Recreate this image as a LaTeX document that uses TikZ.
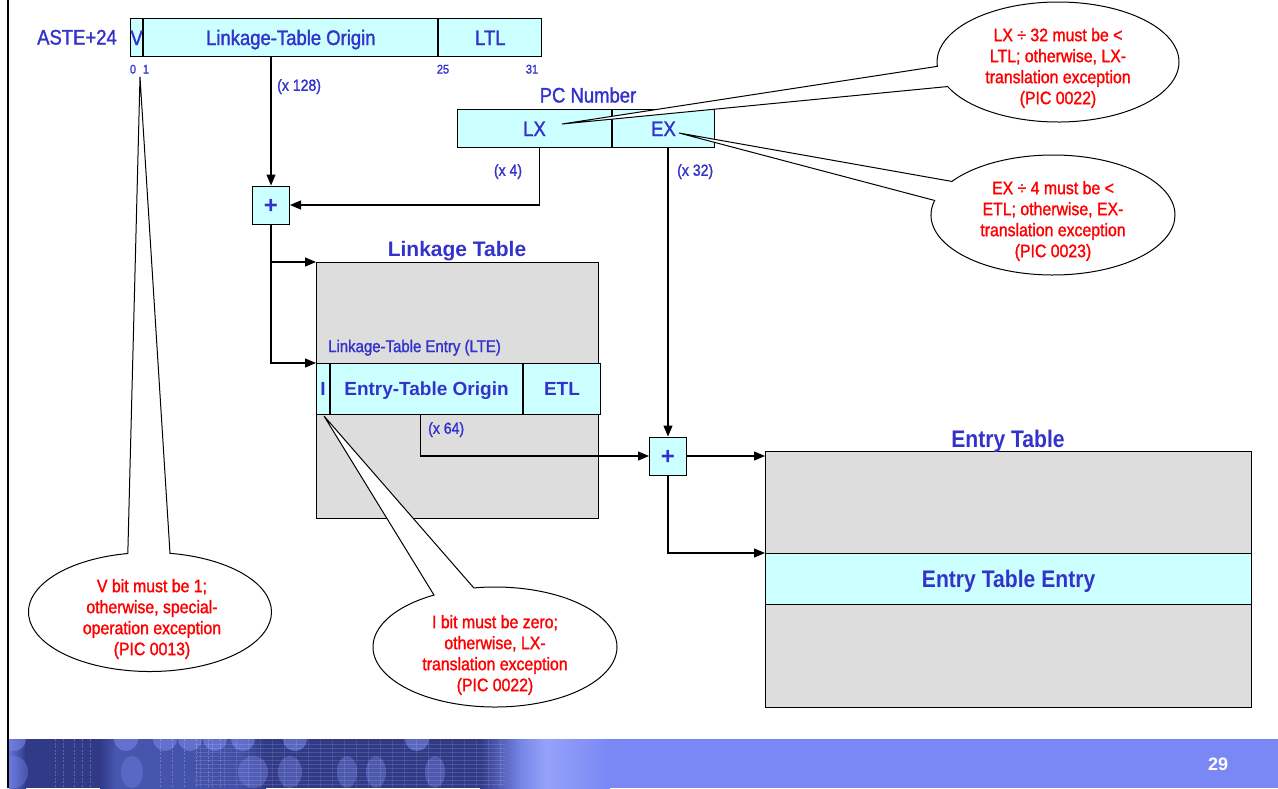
\documentclass[tikz,border=0pt]{standalone}
\usepackage{fontspec}
\setmainfont{Liberation Sans}[FakeStretch=0.88]
\newfontfamily\medfont{Liberation Sans}[FakeStretch=0.88,FakeBold=1.4]
\newfontfamily\widefont{Liberation Sans}
\usetikzlibrary{arrows.meta,shapes.callouts,calc}

\definecolor{tblue}{RGB}{51,51,204}
\definecolor{cyanf}{RGB}{204,255,255}
\definecolor{grayf}{RGB}{221,221,221}
\definecolor{bbase}{RGB}{122,136,245}
\definecolor{bnavy}{RGB}{48,58,135}
\definecolor{bmid}{RGB}{72,86,175}
\definecolor{bedge}{RGB}{100,115,215}
\definecolor{bfade}{RGB}{150,162,250}
\definecolor{blight}{RGB}{118,133,232}

\begin{document}
\begin{tikzpicture}[x=1pt,y=1pt,
  field/.style={draw, line width=1pt, fill=cyanf, inner sep=0pt, text=tblue,
    font=\medfont\fontsize{21}{25}\selectfont, text height=15pt, text depth=0pt,
    minimum height=38pt, anchor=north west},
  ltefield/.style={field, minimum height=51pt,
    font=\widefont\bfseries\fontsize{19}{23}\selectfont, text height=13.6pt},
  tablebox/.style={draw, line width=1.2pt, fill=grayf, inner sep=0pt, anchor=north west},
  adder/.style={draw, line width=1pt, fill=cyanf, minimum width=37pt, minimum height=38pt,
    inner sep=0pt, text=tblue, font=\widefont\bfseries\fontsize{24}{26}\selectfont,
    text height=17pt, text depth=0pt},
  lbl/.style={text=tblue, inner sep=0pt, font=\medfont\fontsize{21}{25}\selectfont,
    text height=15pt, text depth=0pt},
  mult/.style={text=tblue, inner sep=0pt, font=\medfont\fontsize{16}{19}\selectfont,
    text height=11.5pt, text depth=0pt},
  bitno/.style={text=tblue, inner sep=0pt, font=\medfont\fontsize{12.5}{14}\selectfont,
    text height=9pt, text depth=0pt},
  titlelbl/.style={text=tblue, inner sep=0pt, font=\bfseries\fontsize{24}{28}\selectfont,
    text height=17pt, text depth=0pt},
  conn/.style={line width=1.2pt, -{Triangle[length=11pt,width=9pt]}},
  bubble/.style={ellipse callout, draw, line width=1pt, fill=white, inner sep=0pt,
    callout pointer arc=20},
  warn/.style={text=red, align=center, inner sep=0pt, font=\medfont\fontsize{18}{21}\selectfont},
  band/.style={line width=0pt},
]
\useasboundingbox (0,0) rectangle (1278,-788);

% ---------- ASTE word 24 ----------
\node[lbl, anchor=east] (aste) at (117,-37) {ASTE+24};
\node[field, minimum width=12pt] (vbit) at (130,-18) {V};
\node[field, minimum width=294pt] (lto) at (vbit.north east) {Linkage-Table Origin};
\node[field, minimum width=103pt] (ltl) at (lto.north east) {LTL};
\node[bitno] (b0) at (133,-69) {0};
\node[bitno] (b1) at (146,-69) {1};
\node[bitno] (b25) at (443,-69) {25};
\node[bitno] (b31) at (532,-69) {31};
\node[mult, anchor=west] (m128) at (277,-85) {(x 128)};

% ---------- PC number ----------
\node[lbl] (pcn) at (588,-95) {PC Number};
\node[field, minimum width=154pt] (lx) at (457,-109) {LX};
\node[field, minimum width=102pt] (ex) at (lx.north east) {EX};
\node[mult] (m4) at (508,-170) {(x 4)};
\node[mult, anchor=west] (m32) at (677,-170) {(x 32)};

% ---------- adders ----------
\node[adder] (add1) at (271,-205) {+};
\node[adder] (add2) at (668,-456) {+};

% ---------- linkage table ----------
\node[tablebox, minimum width=282pt, minimum height=256pt] (lt) at (316,-262) {};
\node[titlelbl, font=\widefont\bfseries\fontsize{21}{25}\selectfont, text height=15pt] (ltt) at (457,-249) {Linkage Table};
\node[mult, font=\medfont\fontsize{17}{20}\selectfont, text height=12.2pt, anchor=west] (ltelbl) at (328,-346) {Linkage-Table Entry (LTE)};
\node[ltefield, minimum width=13pt] (ibit) at (316,-363) {I};
\node[ltefield, minimum width=192pt] (eto) at (ibit.north east) {Entry-Table Origin};
\node[ltefield, minimum width=77pt] (etl) at (eto.north east) {ETL};
\node[mult, anchor=west] (m64) at (428,-428) {(x 64)};

% ---------- entry table ----------
\node[tablebox, minimum width=486pt, minimum height=256pt] (et) at (765,-451) {};
\node[titlelbl] (ett) at (1008,-439) {Entry Table};
\node[draw, line width=1.2pt, fill=cyanf, anchor=north west, minimum width=486pt,
  minimum height=51pt, inner sep=0pt, text=tblue,
  font=\bfseries\fontsize{24}{28}\selectfont, text height=17pt, text depth=0pt]
  (ete) at (765,-553) {Entry Table Entry};

% ---------- connectors ----------
\draw[conn] (lto.south -| add1.north) -- (add1.north);
\draw[conn] ([xshift=5pt]lx.south) |- (add1.east);
\draw[conn] (ex.south -| add2.north) -- (add2.north);
\draw[conn] (add1.south) |- (lt.north west);
\draw[conn] (add1.south) |- (ibit.north west);
\draw[conn] ([xshift=-6pt]eto.south) |- (add2.west);
\draw[conn] (add2.east) -- (add2.east -| et.west);
\draw[conn] (add2.south) |- (ete.north west);

% ---------- exception callouts ----------
\coordinate (lxtip) at (562,-124);
\coordinate (extip) at (679,-133);
\coordinate (vtip) at (140,-77);
\coordinate (itip) at (324,-416);

\node[bubble, minimum width=242pt, minimum height=120pt, callout absolute pointer={(lxtip)}] (lxcall) at (1058,-62) {};
\node[warn] (lxnote) at (1058,-68) {LX ÷ 32 must be <\\LTL; otherwise, LX-\\translation exception\\(PIC 0022)};

\node[bubble, minimum width=244pt, minimum height=120pt, callout absolute pointer={(extip)}] (excall) at (1053,-215) {};
\node[warn] (exnote) at (1053,-221) {EX ÷ 4 must be <\\ETL; otherwise, EX-\\translation exception\\(PIC 0023)};

\node[bubble, minimum width=243pt, minimum height=119pt, callout absolute pointer={(vtip)}] (vcall) at (150,-612) {};
\node[warn] (vnote) at (152,-619) {V bit must be 1;\\otherwise, special-\\operation exception\\(PIC 0013)};

\node[bubble, minimum width=244pt, minimum height=120pt, callout absolute pointer={(itip)}] (icall) at (495,-647) {};
\node[warn] (inote) at (495,-655) {I bit must be zero;\\otherwise, LX-\\translation exception\\(PIC 0022)};

% ---------- footer band ----------
\begin{scope}
  \clip (9,-739) rectangle (1278,-788);
  \fill[bbase] (9,-739) rectangle (1278,-788);
  % colour run from left to right, one segment at a time
  \shade[band, left color=bedge, right color=bnavy] (9,-739) rectangle (26,-788);
  \fill[bnavy] (25,-739) rectangle (101,-788);
  \shade[band, left color=bnavy, right color=bmid] (100,-739) rectangle (116,-788);
  \shade[band, left color=bmid, right color=bmid!75!bnavy] (115,-739) rectangle (241,-788);
  \shade[band, left color=bmid!75!bnavy, right color=bnavy] (240,-739) rectangle (266,-788);
  \fill[bnavy] (265,-739) rectangle (481,-788);
  \shade[band, left color=bnavy, right color=blight] (480,-739) rectangle (521,-788);
  \shade[band, left color=blight, right color=bfade] (520,-739) rectangle (546,-788);
  \shade[band, left color=bfade, right color=bbase] (545,-739) rectangle (610,-788);
  % soft round blobs along the top edge
  \foreach \cx in {14,126,165,190,215,243,295,417}
    \fill[blight, opacity=0.6] (\cx,-739) circle (12);
  % row of oval blobs across the middle
  \foreach \cx/\r in {14/14,132/11,253/15,290/12,347/10,376/10,435/10}
    \fill[blight, opacity=0.4] (\cx,-772) ellipse ({\r} and 16);
  % fine grid texture
  \foreach \gx in {55,63,74,82,90,160,172,184,196,208,220}
    \draw[white, opacity=0.22, line width=0.6pt, dash pattern=on 2pt off 1.5pt] (\gx,-739) -- (\gx,-788);
  \foreach \gy in {-744,-748,...,-786}
    \draw[white, opacity=0.13, line width=0.5pt] (195,\gy) -- (505,\gy);
  \foreach \gx in {200,212,...,500}
    \draw[white, opacity=0.1, line width=0.5pt] (\gx,-739) -- (\gx,-788);
\end{scope}
\node[text=white, inner sep=0pt, font=\widefont\bfseries\fontsize{18}{20}\selectfont,
  text height=13pt, text depth=0pt] (pageno) at (1218,-764) {29};

% ---------- page frame ----------
\draw[line width=1.2pt] (8,0) -- (8,-788);
\end{tikzpicture}
\end{document}
